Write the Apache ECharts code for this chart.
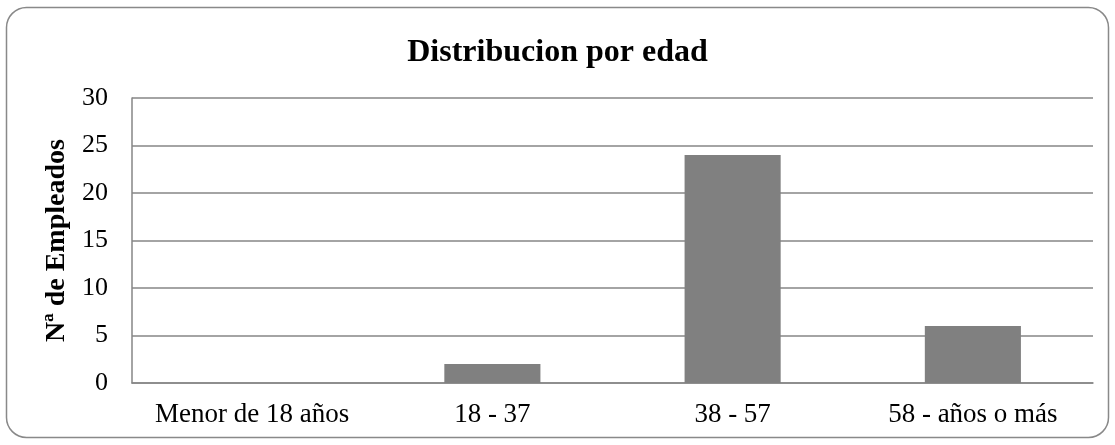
<!DOCTYPE html>
<html>
<head>
<meta charset="utf-8">
<script src="https://cdn.jsdelivr.net/npm/echarts@6/dist/echarts.min.js"></script>
<style>
  html, body { margin: 0; padding: 0; background: #fff; }
  #chart { width: 1115px; height: 445px; }
</style>
</head>
<body>
<div id="chart"></div>
<script>
const categories = ['Menor de 18 años', '18 - 37', '38 - 57', '58 - años o más']
const empleados = [0, 2, 24, 6]
const yTicks = { min: 0, max: 30, interval: 5 }

const font = '"Liberation Serif", "Times New Roman", serif'
const chart = echarts.init(document.getElementById('chart'))

chart.setOption({
  animation: false,
  graphic: [{
    type: 'rect',
    shape: { x: 6.5, y: 7.5, width: 1102, height: 430, r: 20 },
    style: { fill: 'none', stroke: '#898989', lineWidth: 1.5 },
    z: -1
  }],
  title: {
    text: 'Distribucion por edad',
    left: 'center',
    top: 30,
    textStyle: { fontFamily: font, fontSize: 32, fontWeight: 'bold', color: '#000', lineHeight: 36 }
  },
  grid: { left: 132, right: 22, top: 98, bottom: 62 },
  xAxis: {
    type: 'category',
    data: categories,
    axisLine: { lineStyle: { color: '#868686', width: 1.5 } },
    axisTick: { show: false },
    axisLabel: { interval: 0, fontFamily: font, fontSize: 27, color: '#000', margin: 18 }
  },
  yAxis: {
    type: 'value',
    min: yTicks.min,
    max: yTicks.max,
    interval: yTicks.interval,
    name: 'Nª de Empleados',
    nameLocation: 'middle',
    nameGap: 57,
    nameTextStyle: { fontFamily: font, fontSize: 28, fontWeight: 'bold', color: '#000' },
    axisLine: { show: true, lineStyle: { color: '#868686', width: 1.5 } },
    axisTick: { show: false },
    axisLabel: { fontFamily: font, fontSize: 26, color: '#000', margin: 24 },
    splitLine: { lineStyle: { color: '#868686', width: 1.5 } }
  },
  series: [{
    type: 'bar',
    data: empleados,
    barWidth: '40%',
    itemStyle: { color: '#808080' }
  }]
})
</script>
</body>
</html>
